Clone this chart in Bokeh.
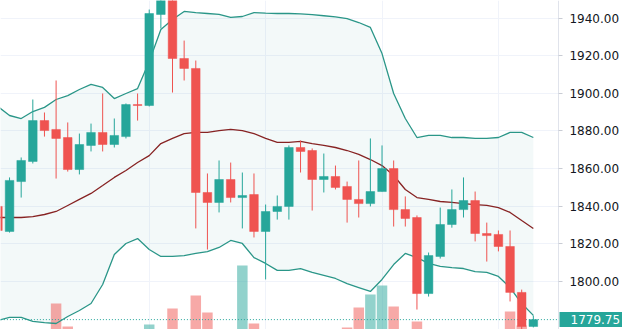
from bokeh.plotting import figure
from bokeh.models import (Range1d, FixedTicker, Grid, Label, ColumnDataSource,
                          PrintfTickFormatter, LinearAxis, BoxAnnotation)
from bokeh.embed import file_html
from bokeh.resources import INLINE

# ---- data ----
opens = [1839.9, 1826.6, 1853.1, 1863.8, 1885.5, 1880.8, 1876.5, 1859.5, 1872.3, 1879.2,
         1872.8, 1877.0, 1894.0, 1893.5, 1941.9, 1956.0, 1918.5, 1913.2, 1847.3, 1842.0,
         1854.2, 1844.6, 1846.2, 1826.6, 1837.2, 1839.9, 1871.2, 1869.6, 1854.2, 1855.8,
         1850.5, 1843.6, 1841.4, 1847.8, 1860.0, 1838.2, 1834.0, 1793.6, 1813.3, 1830.3,
         1838.2, 1843.0, 1825.5, 1825.0, 1818.6, 1794.2, 1776.1]
highs = [1840.9, 1855.3, 1865.9, 1896.7, 1889.8, 1906.8, 1884.5, 1878.6, 1883.9, 1899.9,
         1886.6, 1894.6, 1899.9, 1944.5, 1962.0, 1960.0, 1928.0, 1917.4, 1857.4, 1864.3,
         1863.2, 1857.9, 1857.4, 1840.9, 1845.7, 1872.3, 1874.9, 1870.7, 1868.0, 1861.6,
         1853.1, 1864.3, 1876.0, 1872.3, 1864.3, 1845.2, 1835.1, 1815.4, 1839.3, 1848.9,
         1855.3, 1847.8, 1831.3, 1827.1, 1827.1, 1795.7, 1781.9]
lows = [1826.0, 1826.0, 1844.6, 1862.7, 1877.0, 1854.7, 1858.4, 1856.9, 1869.1, 1869.1,
        1871.2, 1876.0, 1885.5, 1893.0, 1934.4, 1900.4, 1906.8, 1828.2, 1817.0, 1836.7,
        1842.0, 1828.2, 1823.4, 1801.1, 1832.9, 1832.9, 1857.9, 1837.7, 1847.3, 1848.9,
        1831.3, 1834.0, 1839.9, 1847.8, 1829.2, 1829.2, 1785.1, 1792.0, 1812.2, 1828.6,
        1834.0, 1821.3, 1810.6, 1816.0, 1789.4, 1773.0, 1775.6]
closes = [1827.1, 1853.7, 1864.3, 1885.5, 1880.2, 1876.0, 1859.5, 1872.8, 1879.2, 1872.8,
          1877.6, 1894.0, 1893.5, 1942.4, 1956.0, 1918.5, 1913.2, 1847.3, 1842.0, 1854.2,
          1844.6, 1845.7, 1826.6, 1837.2, 1839.9, 1871.2, 1869.1, 1854.2, 1855.8, 1850.0,
          1843.6, 1841.4, 1847.8, 1860.0, 1838.2, 1833.5, 1793.6, 1813.8, 1830.3, 1838.2,
          1843.0, 1825.5, 1824.4, 1818.6, 1794.2, 1776.1, 1779.75]
volumes = [0, 0, 0, 0, 0, 52, 6, 0, 0, 0,
           0, 0, 0, 10, 0, 42, 0, 68, 34, 0,
           0, 128, 12, 0, 0, 0, 0, 0, 0, 0,
           4, 44, 70, 88, 46, 0, 16, 0, 0, 0,
           0, 0, 0, 0, 36, 8, 0]
bb_upper = [1893.0, 1888.2, 1886.6, 1890.3, 1892.5, 1896.7, 1898.8, 1902.0, 1904.7, 1903.1,
            1897.2, 1899.9, 1902.5, 1916.9, 1933.9, 1939.2, 1943.5, 1942.9, 1942.4, 1941.9,
            1940.3, 1940.8, 1942.9, 1942.6, 1942.4, 1942.4, 1942.2, 1941.8, 1941.2, 1940.6,
            1939.7, 1937.6, 1935.0, 1921.1, 1899.9, 1886.6, 1876.5, 1877.6, 1877.6, 1876.5,
            1876.5, 1876.0, 1876.0, 1876.5, 1879.2, 1879.2, 1876.5]
bb_basis = [1834.0, 1834.0, 1834.0, 1834.5, 1835.6, 1837.2, 1840.4, 1843.6, 1846.8, 1851.0,
            1855.3, 1859.0, 1863.2, 1866.9, 1873.3, 1876.0, 1878.6, 1879.2, 1879.2, 1880.2,
            1880.8, 1880.2, 1878.6, 1876.0, 1873.9, 1873.9, 1874.4, 1873.3, 1872.3, 1871.2,
            1869.6, 1867.5, 1864.8, 1861.6, 1856.3, 1848.9, 1844.6, 1843.6, 1842.5, 1842.0,
            1841.4, 1840.9, 1840.4, 1839.3, 1836.7, 1832.4, 1828.2]
bb_lower = [1779.3, 1780.9, 1780.9, 1778.8, 1778.2, 1777.7, 1781.4, 1784.6, 1788.3, 1798.4,
            1814.3, 1820.2, 1822.8, 1817.0, 1813.3, 1813.3, 1813.8, 1814.9, 1815.9, 1818.1,
            1821.8, 1820.2, 1812.7, 1809.6, 1805.9, 1805.9, 1806.9, 1804.8, 1803.2, 1801.6,
            1798.9, 1796.8, 1794.7, 1801.1, 1809.0, 1814.9, 1812.7, 1809.6, 1808.0, 1807.4,
            1806.9, 1805.3, 1804.8, 1802.7, 1796.8, 1788.3, 1782.0]
price_ticks = [1800, 1820, 1840, 1860, 1880, 1900, 1920, 1940]
time_grid_bars = [13, 23, 33, 43]
last_price = 1779.75

# ---- view settings ----
X_START, X_END = 0.223, 53.66      # bar-index range over the whole 622 px canvas
SCALE_AT = 48.16                   # bar-index where the price scale begins
UP = "#26a69a"
DOWN = "#ef5350"
BAND = "#2a9688"
BASIS = "#872323"
GRID = "#f0f3fa"
FONT = "DejaVu Sans"

idx = list(range(len(opens)))
colors = [UP if c >= o else DOWN for o, c in zip(opens, closes)]
src = ColumnDataSource(dict(
    x=idx, o=opens, h=highs, l=lows, c=closes, v=volumes,
    top=[max(o, c) for o, c in zip(opens, closes)],
    bot=[min(o, c) for o, c in zip(opens, closes)],
    color=colors,
    up=bb_upper, mid=bb_basis, lo=bb_lower,
))

p = figure(width=622, height=329,
           x_range=Range1d(X_START, X_END), y_range=Range1d(1774.5, 1949.3),
           y_axis_location=None, x_axis_location=None,
           toolbar_location=None, output_backend="svg",
           min_border_left=0, min_border_top=0, min_border_bottom=0, min_border_right=0,
           outline_line_color=None, background_fill_color="white", border_fill_color="white")
p.extra_y_ranges = {"vol": Range1d(0, 658)}

# grids
p.xgrid.visible = False
p.ygrid.visible = False
p.add_layout(Grid(dimension=1, ticker=FixedTicker(ticks=price_ticks), grid_line_color=GRID))
p.add_layout(Grid(dimension=0, ticker=FixedTicker(ticks=time_grid_bars), grid_line_color=GRID))

# Bollinger band fill
p.varea(x="x", y1="lo", y2="up", source=src, fill_color="#198787", fill_alpha=0.05)

# volume
p.vbar(x="x", width=0.9, top="v", bottom=0, source=src, fill_color="color",
       fill_alpha=0.5, line_color=None, y_range_name="vol")

# band lines
p.line("x", "up", source=src, line_color=BAND, line_width=1.3)
p.line("x", "lo", source=src, line_color=BAND, line_width=1.3)
p.line("x", "mid", source=src, line_color=BASIS, line_width=1.3)

# last price dotted line
p.line([0, SCALE_AT], [last_price, last_price], line_color=UP, line_width=1, line_dash="1 2")

# candles
p.segment(x0="x", y0="l", x1="x", y1="h", source=src, line_color="color", line_width=1)
p.vbar(x="x", width=0.74, top="top", bottom="bot", source=src,
       fill_color="color", line_color="color", line_width=0.5)

# blank price-scale area (hides grid lines there)
p.add_layout(BoxAnnotation(left=SCALE_AT, fill_color="white", fill_alpha=1.0,
                           line_color=None, level="glyph"))

# price scale
ax = LinearAxis(fixed_location=SCALE_AT,
                ticker=FixedTicker(ticks=price_ticks),
                formatter=PrintfTickFormatter(format="%.2f"))
ax.axis_line_color = "#e0e3eb"
ax.major_tick_line_color = "#c9ccd4"
ax.major_tick_out = 4
ax.major_tick_in = 0
ax.minor_tick_line_color = None
ax.major_label_text_font = FONT
ax.major_label_text_font_size = "12px"
ax.major_label_text_color = "#131722"
ax.major_label_standoff = 7
p.add_layout(ax, "right")

# last price label on the scale
lbl = Label(x=559, y=last_price, x_units="screen", y_units="data",
            text=f"{last_price:.2f}", text_font=FONT, text_font_size="12px",
            text_color="white", text_baseline="middle", text_align="left",
            background_fill_color=UP, level="overlay")
try:
    lbl.padding = dict(left=11, right=2, top=3, bottom=3)
except Exception:
    lbl.padding = 3
p.add_layout(lbl)

open("out.html", "w").write(file_html(p, INLINE))
